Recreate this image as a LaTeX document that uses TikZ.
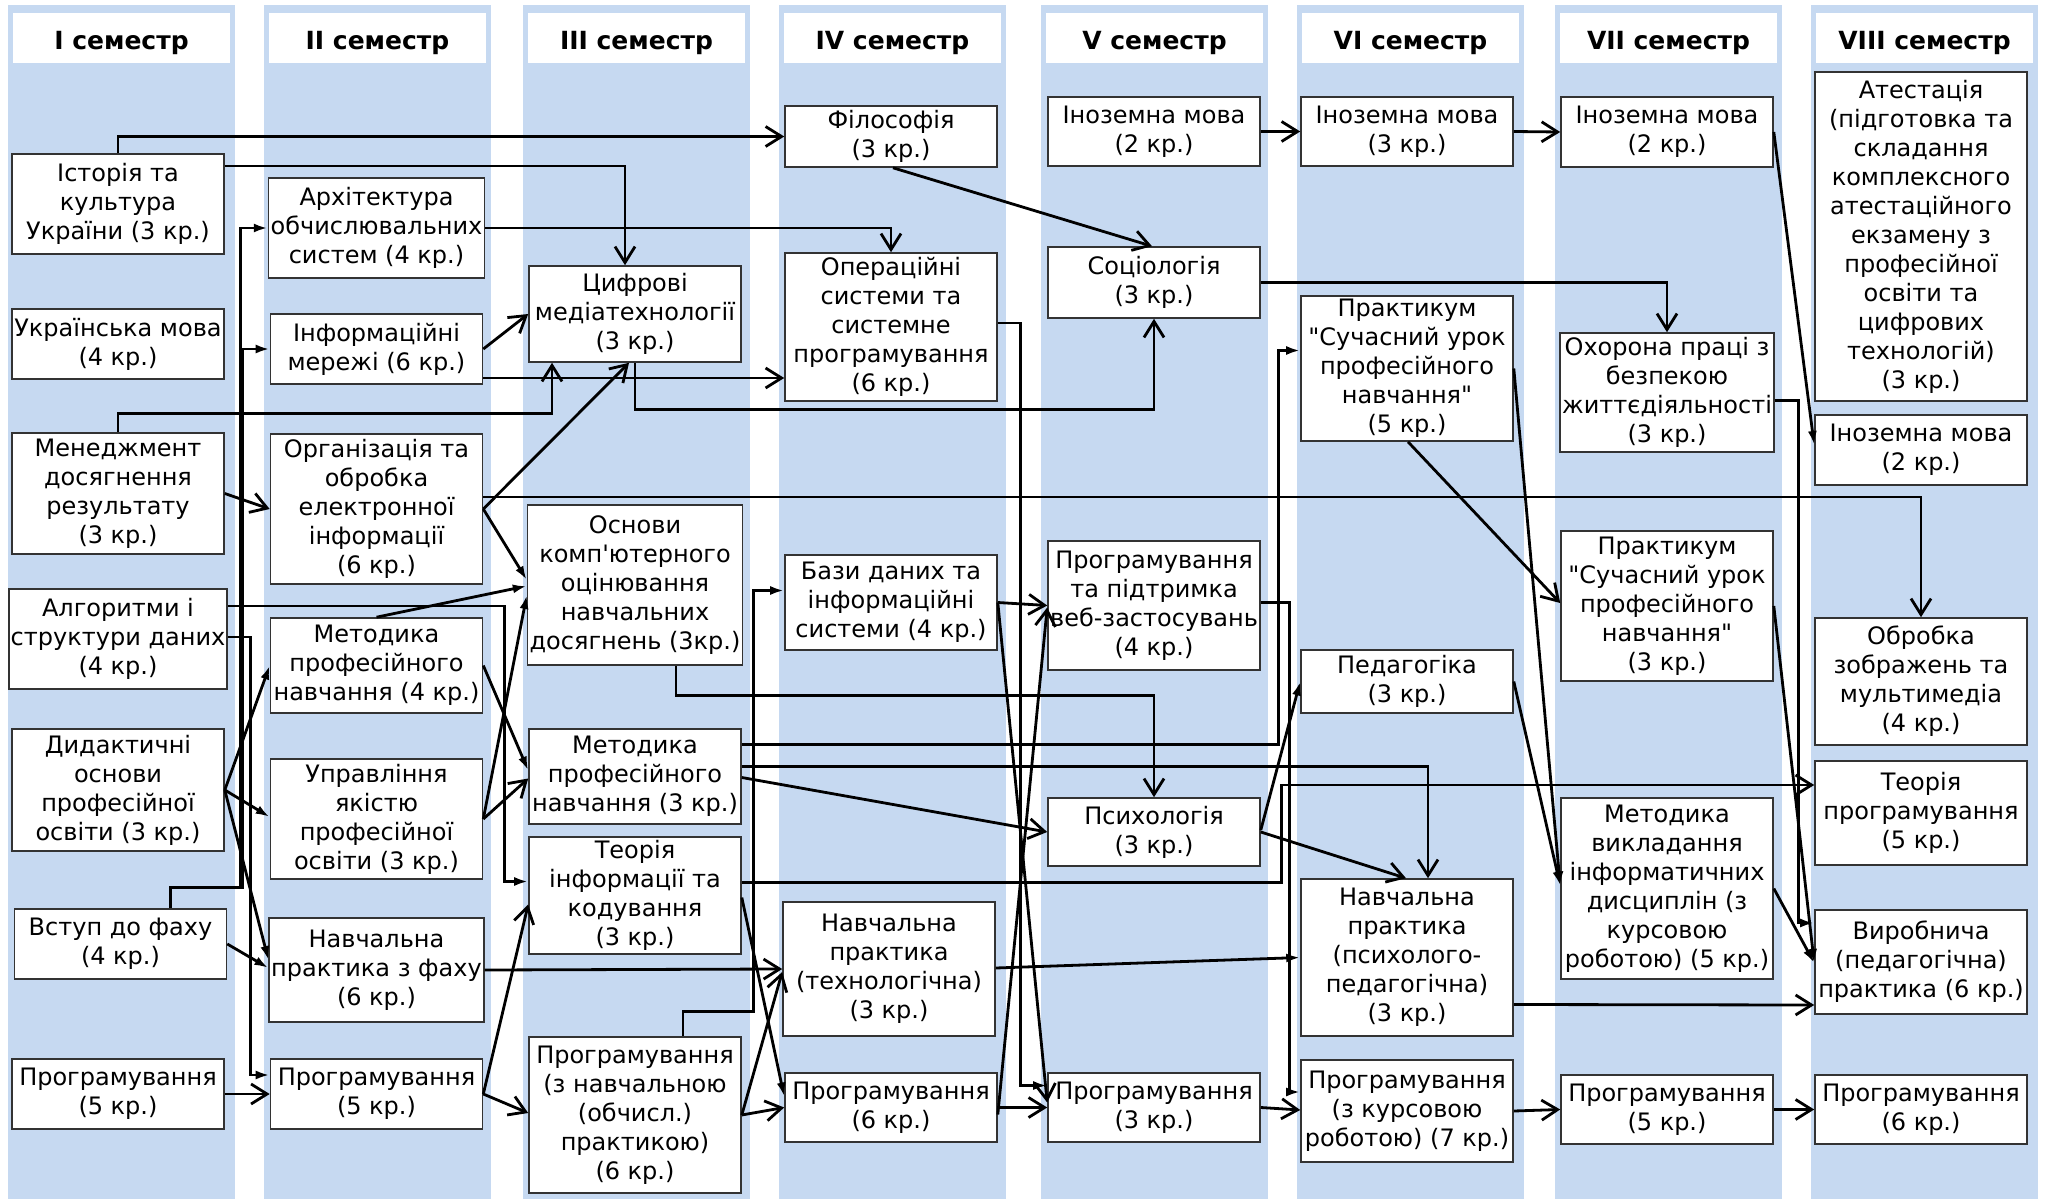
\documentclass[tikz,border=0pt]{standalone}
\usepackage{fontspec}
\setmainfont{DejaVu Sans}
\usetikzlibrary{arrows.meta,calc}
\definecolor{bandblue}{RGB}{198,217,241}
% plain quote marks, without the TeX ligature mapping
\font\plainquote="DejaVu Sans" at 12pt
\newcommand{\dq}{{\plainquote"}}
\newcommand{\sq}{{\plainquote'}}

\begin{document}
\begin{tikzpicture}[
    x=0.5pt, y=-0.5pt,
    font=\fontsize{12}{14.5}\selectfont,
    band/.style={fill=bandblue},
    semhead/.style={rectangle, fill=white, minimum width=108.5pt, minimum height=25pt, text height=13pt, text depth=2pt, font=\fontsize{12.5}{15}\selectfont\bfseries},
    subj/.style={rectangle, draw=black!80, line width=0.8pt, fill=white, align=center, minimum width=106pt, inner xsep=1pt, inner ysep=1pt},
    arr/.style={-{Straight Barb[length=8pt,width=10pt]}, line width=1.4pt},
    farr/.style={-{Latex[length=7pt,width=4.5pt]}, line width=1.4pt}
]
    \useasboundingbox (0,0) rectangle (2047,1199);
    \fill[white] (0,0) rectangle (2047,1199);

    % Semester bands and headers
    \foreach \bx/\sem in {8/I,264/II,523/III,779/IV,1041/V,1297/VI,1555/VII,1811/VIII}{
        \fill[band] (\bx,5) rectangle ++(227,1194);
        \node[semhead] (h\sem) at (\bx+113.5,38) {\sem\ семестр};
    }

    % Semester I
    \node[subj, minimum height=50pt] (hist) at (118,204) {Історія та\\культура\\України (3 кр.)};
    \node[subj, minimum height=35pt] (ukr) at (118,344) {Українська мова\\(4 кр.)};
    \node[subj, minimum height=60.5pt] (mgmt) at (118,493.5) {Менеджмент\\досягнення\\результату\\(3 кр.)};
    \node[subj, minimum height=50pt] (alg) at (118,639) {Алгоритми і\\структури даних\\(4 кр.)};
    \node[subj, minimum height=61pt] (did) at (118,790) {Дидактичні\\основи\\професійної\\освіти (3 кр.)};
    \node[subj, minimum height=35pt] (vstup) at (120.5,944) {Вступ до фаху\\(4 кр.)};
    \node[subj, minimum height=35pt] (progA) at (118,1094) {Програмування\\(5 кр.)};

    % Semester II
    \node[subj, minimum height=50pt] (arch) at (376.5,228) {Архітектура\\обчислювальних\\систем (4 кр.)};
    \node[subj, minimum height=35pt] (nets) at (376.5,349) {Інформаційні\\мережі (6 кр.)};
    \node[subj, minimum height=75pt] (org) at (376.5,509) {Організація та\\обробка\\електронної\\інформації\\(6 кр.)};
    \node[subj, minimum height=47.5pt] (metA) at (376.5,665.5) {Методика\\професійного\\навчання (4 кр.)};
    \node[subj, minimum height=60pt] (qual) at (376.5,819) {Управління\\якістю\\професійної\\освіти (3 кр.)};
    \node[subj, minimum height=52pt] (pracA) at (376.5,970) {Навчальна\\практика з фаху\\(6 кр.)};
    \node[subj, minimum height=35pt] (progB) at (376.5,1094) {Програмування\\(5 кр.)};

    % Semester III
    \node[subj, minimum height=48pt] (media) at (635,314) {Цифрові\\медіатехнології\\(3 кр.)};
    \node[subj, minimum height=80pt] (assess) at (635,585) {Основи\\комп\sq ютерного\\оцінювання\\навчальних\\досягнень (3кр.)};
    \node[subj, minimum height=47.5pt] (metB) at (635,776.5) {Методика\\професійного\\навчання (3 кр.)};
    \node[subj, minimum height=58.5pt] (infth) at (635,895.5) {Теорія\\інформації та\\кодування\\(3 кр.)};
    \node[subj, minimum height=78pt] (progC) at (635,1115) {Програмування\\(з навчальною\\(обчисл.)\\практикою)\\(6 кр.)};

    % Semester IV
    \node[subj, minimum height=30.5pt] (phil) at (891,136.5) {Філософія\\(3 кр.)};
    \node[subj, minimum height=74pt] (os) at (891,327) {Операційні\\системи та\\системне\\програмування\\(6 кр.)};
    \node[subj, minimum height=47.5pt] (db) at (891,602.5) {Бази даних та\\інформаційні\\системи (4 кр.)};
    \node[subj, minimum height=67pt] (pracB) at (889,969) {Навчальна\\практика\\(технологічна)\\(3 кр.)};
    \node[subj, minimum height=34.5pt] (progD) at (891,1107.5) {Програмування\\(6 кр.)};

    % Semester V
    \node[subj, minimum height=34.5pt] (langA) at (1154,131.5) {Іноземна мова\\(2 кр.)};
    \node[subj, minimum height=35.5pt] (soc) at (1154,282.5) {Соціологія\\(3 кр.)};
    \node[subj, minimum height=64.5pt] (web) at (1154,605.5) {Програмування\\та підтримка\\веб-застосувань\\(4 кр.)};
    \node[subj, minimum height=34pt] (psy) at (1154,832) {Психологія\\(3 кр.)};
    \node[subj, minimum height=34.5pt] (progE) at (1154,1107.5) {Програмування\\(3 кр.)};

    % Semester VI
    \node[subj, minimum height=34.5pt] (langB) at (1407,131.5) {Іноземна мова\\(3 кр.)};
    \node[subj, minimum height=72.5pt] (workA) at (1407,368.5) {Практикум\\\dq Сучасний урок\\професійного\\навчання\dq\\(5 кр.)};
    \node[subj, minimum height=31.5pt] (ped) at (1407,681.5) {Педагогіка\\(3 кр.)};
    \node[subj, minimum height=78.5pt] (pracC) at (1407,957.5) {Навчальна\\практика\\(психолого-\\педагогічна)\\(3 кр.)};
    \node[subj, minimum height=51pt] (progF) at (1407,1111) {Програмування\\(з курсовою\\роботою) (7 кр.)};

    % Semester VII
    \node[subj, minimum height=35pt] (langC) at (1667,132) {Іноземна мова\\(2 кр.)};
    \node[subj, minimum height=59.5pt] (safety) at (1667,392.5) {Охорона праці з\\безпекою\\життєдіяльності\\(3 кр.)};
    \node[subj, minimum height=75pt] (workB) at (1667,606) {Практикум\\\dq Сучасний урок\\професійного\\навчання\dq\\(3 кр.)};
    \node[subj, minimum height=90.5pt] (metC) at (1667,888.5) {Методика\\викладання\\інформатичних\\дисциплін (з\\курсовою\\роботою) (5 кр.)};
    \node[subj, minimum height=34.5pt] (progG) at (1667,1109.5) {Програмування\\(5 кр.)};

    % Semester VIII
    \node[subj, minimum height=164.5pt] (cert) at (1921,236.5) {Атестація\\(підготовка та\\складання\\комплексного\\атестаційного\\екзамену з\\професійної\\освіти та\\цифрових\\технологій)\\(3 кр.)};
    \node[subj, minimum height=35pt] (langD) at (1921,450) {Іноземна мова\\(2 кр.)};
    \node[subj, minimum height=63.5pt] (img) at (1921,681.5) {Обробка\\зображень та\\мультимедіа\\(4 кр.)};
    \node[subj, minimum height=52pt] (progth) at (1921,813) {Теорія\\програмування\\(5 кр.)};
    \node[subj, minimum height=52pt] (pracD) at (1921,962) {Виробнича\\(педагогічна)\\практика (6 кр.)};
    \node[subj, minimum height=34.5pt] (progH) at (1921,1109.5) {Програмування\\(6 кр.)};

    % Links out of semester I
    \draw[arr] (hist.north) |- (phil.west);
    \draw[arr] ($(hist.east)+(0,-38)$) -| ($(media.north)+(-10,0)$);
    \draw[farr] ($(vstup.north)+(50,0)$) -- ++(0,-21) -| ($(arch.west)+(-27,0)$) -- (arch.west);
    \draw[farr] ($(vstup.north)+(50,0)$) -- ++(0,-21) -| ($(nets.west)+(-27,0)$) -- (nets.west);
    \draw[arr] (mgmt.north) -- ++(0,-19) -| ($(media.south)+(-83,0)$);
    \draw[arr] (mgmt.east) -- (org.west);
    \draw[farr] ($(alg.east)+(0,-33)$) -| ($(infth.west)+(-24,-14)$) -- ($(infth.west)+(0,-14)$);
    \draw[farr] ($(alg.east)+(0,-2)$) -| ($(progB.west)+(-19,-19)$) -- ($(progB.west)+(0,-19)$);
    \draw[farr] (did.east) -- (metA.west);
    \draw[farr] (did.east) -- ($(qual.west)+(0,-2)$);
    \draw[farr] (did.east) -- ($(pracA.west)+(0,-10)$);
    \draw[farr] (vstup.east) -- ($(pracA.west)+(0,-2)$);
    \draw[arr] (progA.east) -- (progB.west);

    % Links out of semester II
    \draw[arr] (arch.east) -| (os.north);
    \draw[arr] (nets.east) -- (media.west);
    \draw[arr] ($(nets.east)+(0,29)$) -- ($(os.west)+(0,51)$);
    \draw[arr] (org.east) -- ($(media.south)+(-6,0)$);
    \draw[arr] ($(org.east)+(0,-12)$) -| (img.north);
    \draw[farr] (org.east) -- ($(assess.west)+(0,-5)$);
    \draw[farr] (metA.north) -- ($(assess.west)+(0,1)$);
    \draw[farr] (metA.east) -- ($(metB.west)+(0,-6)$);
    \draw[farr] (qual.east) -- ($(assess.west)+(0,10)$);
    \draw[arr] (qual.east) -- ($(metB.west)+(0,2)$);
    \draw[arr] (pracA.east) -- (pracB.west);
    \draw[arr] (progB.east) -- ($(infth.west)+(0,9)$);
    \draw[arr] (progB.east) -- ($(progC.west)+(0,-2)$);

    % Links out of semester III
    \draw[arr] (media.south) -- ++(0,47) -| (soc.south);
    \draw[farr] ($(progC.north)+(48,0)$) -- ++(0,-25) -| ($(db.west)+(-31,-12)$) -- ($(db.west)+(0,-12)$);
    \draw[arr] (progC.east) -- ($(pracB.west)+(0,3)$);
    \draw[arr] (progC.east) -- (progD.west);
    \draw[arr] ($(infth.east)+(0,-13)$) -- ++(540,0) |- ($(progth.west)+(0,-28)$);
    \draw[farr] ($(infth.east)+(0,2)$) -- ($(progD.west)+(0,-11)$);
    \draw[farr] ($(metB.east)+(0,-32)$) -- ++(537,0) |- ($(workA.west)+(0,-18)$);
    \draw[arr] ($(metB.east)+(0,-10)$) -| ($(pracC.north)+(21,0)$);
    \draw[arr] ($(metB.east)+(0,1)$) -- (psy.west);
    \draw[arr] ($(assess.south)+(41,0)$) -- ++(0,30) -| (psy.north);

    % Links out of semester IV
    \draw[arr] ($(phil.south)+(2,0)$) -- ($(soc.north)+(-2,0)$);
    \draw[arr] (db.east) -- (web.west);
    \draw[arr] (db.east) -- ($(progE.west)+(0,-5)$);
    \draw[farr] ($(os.east)+(0,-4)$) -- ++(23,0) |- ($(progE.west)+(0,-22)$);
    \draw[arr] ($(progD.east)+(0,7)$) -- ($(web.west)+(0,2)$);
    \draw[arr] (progD.east) -- (progE.west);
    \draw[farr] ($(pracB.east)+(0,-1)$) -- (pracC.west);

    % Links out of semester V
    \draw[arr] (langA.east) -- (langB.west);
    \draw[arr] (soc.east) -| (safety.north);
    \draw[farr] ($(web.east)+(0,-3)$) -- ++(29,0) |- ($(progF.west)+(0,-19)$);
    \draw[farr] ($(psy.east)+(0,-2)$) -- (ped.west);
    \draw[arr] (psy.east) -- ($(pracC.north)+(-1,0)$);
    \draw[arr] (progE.east) -- ($(progF.west)+(0,-1)$);

    % Links out of semester VI
    \draw[arr] (langB.east) -- (langC.west);
    \draw[arr] ($(workA.south)+(1,0)$) -- ($(workB.west)+(0,-3)$);
    \draw[farr] (workA.east) -- ($(metC.west)+(0,-3)$);
    \draw[farr] (ped.east) -- ($(metC.west)+(0,-3)$);
    \draw[arr] ($(pracC.east)+(0,47)$) -- ($(pracD.west)+(0,43)$);
    \draw[arr] (progF.east) -- (progG.west);

    % Links out of semester VII
    \draw[farr] (langC.east) -- ($(langD.west)+(0,-5)$);
    \draw[farr] ($(safety.east)+(0,8)$) -- ++(24,0) |- ($(pracD.west)+(0,-39)$);
    \draw[farr] (workB.east) -- ($(pracD.west)+(0,1)$);
    \draw[farr] (metC.east) -- ($(pracD.west)+(0,1)$);
    \draw[arr] (progG.east) -- (progH.west);
\end{tikzpicture}
\end{document}
